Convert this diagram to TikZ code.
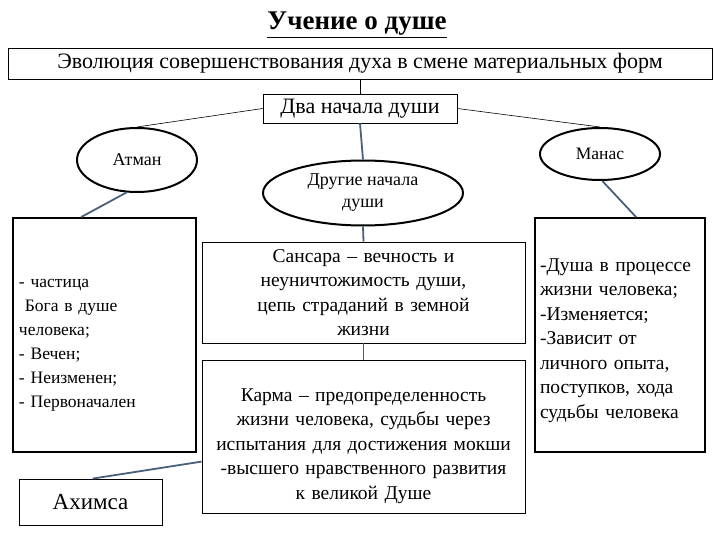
\documentclass[tikz,border=0pt]{standalone}
\usepackage{fontspec}
\setmainfont{Liberation Serif}
\usetikzlibrary{shapes.geometric, calc}
\definecolor{linkcolor}{HTML}{4A6079}

\begin{document}
\begin{tikzpicture}[x=1pt, y=-1pt,
    thinbox/.style={draw=black, line width=0.8pt, rectangle, inner sep=0pt},
    thickbox/.style={draw=black, line width=1.8pt, rectangle, inner sep=0pt},
    oval/.style={draw=black, line width=2pt, ellipse, inner sep=0pt},
    bodytext/.style={font=\fontsize{19.5}{24.5}\selectfont},
    link/.style={draw=linkcolor, line width=1.8pt},
    thinlink/.style={draw=black, line width=0.6pt}]
    \useasboundingbox (0,0) rectangle (720,540);

    % Title
    \node (title) at (357,25) {\fontsize{27}{30}\selectfont\bfseries\underline{Учение о душе}};

    % Top boxes
    \node[thinbox, minimum width=704pt, minimum height=31pt, font=\fontsize{22}{24}\selectfont] (evol) at (360,63.5)
      {Эволюция совершенствования духа в смене материальных форм};
    \node[thinbox, minimum width=194pt, minimum height=29pt, font=\fontsize{22}{24}\selectfont] (dva) at (360,108.5)
      {Два начала души};

    % Ovals
    \node[oval, minimum width=120pt, minimum height=64pt, font=\fontsize{18}{22}\selectfont] (atman) at (137,160) {Атман};
    \node[oval, minimum width=120pt, minimum height=52pt, font=\fontsize{17.5}{22}\selectfont] (manas) at (600,154) {Манас};
    \node[oval, minimum width=200pt, minimum height=65pt, align=center, font=\fontsize{18}{22}\selectfont] (drugie) at (363,193)
      {Другие начала\\души};

    % Left column
    \node[thickbox, minimum width=183pt, minimum height=234pt, font=\fontsize{17.5}{24}\selectfont, text width=171pt, align=left] (atmanlist) at (104.5,335)
      {\rule{0pt}{28pt}- частица\\
       \ Бога в душе\\
       человека;\\
       - Вечен;\\
       - Неизменен;\\
       - Первоначален};
    \node[thinbox, minimum width=143pt, minimum height=46pt, font=\fontsize{23}{26}\selectfont] (akhimsa) at (90.5,502) {Ахимса};

    % Middle column
    \node[thinbox, minimum width=323pt, minimum height=101pt, bodytext, text width=311pt, align=center] (samsara) at (363.5,292.5)
      {Сансара – вечность и\\
       неуничтожимость души,\\
       цепь страданий в земной\\
       жизни};
    \node[thinbox, minimum width=323pt, minimum height=153pt, bodytext, text width=311pt, align=center] (karma) at (363.5,436.5)
      {\rule{0pt}{32pt}Карма – предопределенность\\
       жизни человека, судьбы через\\
       испытания для достижения мокши\\
       -высшего нравственного развития\\
       к великой Душе};

    % Right column
    \node[thickbox, minimum width=170pt, minimum height=234pt, bodytext, text width=160pt, align=left] (manaslist) at (620,335)
      {\rule{0pt}{24pt}-Душа в процессе\\
       жизни человека;\\
       -Изменяется;\\
       -Зависит от\\
       личного опыта,\\
       поступков, хода\\
       судьбы человека};

    % Connectors
    \draw[thinlink] (evol.south) -- (dva.north);
    \draw[thinlink] (dva.west) -- (atman.north);
    \draw[thinlink] (dva.east) -- (manas.north);
    \draw[link] (dva.south) -- (drugie.north);
    \draw[link] (drugie.south) -- (samsara.north);
    \draw[link] (samsara.south) -- (karma.north);
    \draw[link] (atman.-108) -- ($(atmanlist.north west)+(69,0)$);
    \draw[link] (manas.-85) -- ($(manaslist.north west)+(102,0)$);
    \draw[link] ($(karma.north west)+(0,102)$) -- ($(akhimsa.north west)+(74,0)$);
  \end{tikzpicture}
\end{document}
